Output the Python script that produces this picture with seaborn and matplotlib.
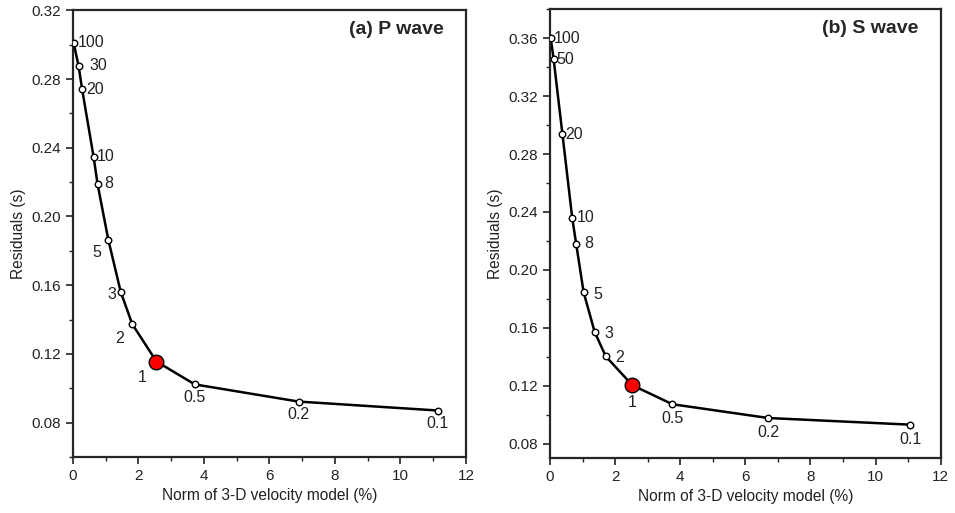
import numpy as np
import pandas as pd
import seaborn as sns
import matplotlib.pyplot as plt
from matplotlib.ticker import MultipleLocator

# damping values and L-curve points
p_damp = ["100", "30", "20", "10", "8", "5", "3", "2", "1", "0.5", "0.2", "0.1"]
p_norm = [0.02, 0.17, 0.28, 0.63, 0.75, 1.08, 1.46, 1.81, 2.55, 3.72, 6.89, 11.14]
p_resid = [0.301, 0.2877, 0.274, 0.2347, 0.219, 0.1864, 0.156, 0.1374, 0.1156, 0.1023, 0.0923, 0.0871]

s_damp = ["100", "50", "20", "10", "8", "5", "3", "2", "1", "0.5", "0.2", "0.1"]
s_norm = [0.02, 0.11, 0.38, 0.68, 0.80, 1.03, 1.37, 1.71, 2.53, 3.76, 6.70, 11.06]
s_resid = [0.360, 0.3453, 0.2937, 0.2359, 0.2182, 0.1846, 0.1571, 0.1403, 0.1203, 0.1072, 0.0977, 0.0931]

chosen = "1"

# label offsets in points (dx, dy, ha, va)
p_offsets = {
    "100": (3, 0, "left", "center"), "30": (8, 0, "left", "center"),
    "20": (3, 0, "left", "center"), "10": (2, 0, "left", "center"),
    "8": (5, 0, "left", "center"), "5": (-5, -4, "right", "top"),
    "3": (-3, -2, "right", "center"), "2": (-6, -5, "right", "top"),
    "1": (-7, -6, "right", "top"), "0.5": (0, -4, "center", "top"),
    "0.2": (0, -4, "center", "top"), "0.1": (0, -4, "center", "top"),
}
s_offsets = {
    "100": (2, 0, "left", "center"), "50": (2, 0, "left", "center"),
    "20": (2, 0, "left", "center"), "10": (3, 0, "left", "center"),
    "8": (6, 0, "left", "center"), "5": (7, -2, "left", "center"),
    "3": (7, -1, "left", "center"), "2": (7, -1, "left", "center"),
    "1": (0, -7, "center", "top"), "0.5": (0, -5, "center", "top"),
    "0.2": (0, -5, "center", "top"), "0.1": (0, -5, "center", "top"),
}

sns.set_style("ticks")
plt.rcParams['font.family'] = ['Liberation Sans', 'DejaVu Sans']

fig = plt.figure(figsize=(9.55, 5.13), dpi=100)
ax1 = fig.add_axes([0.0764, 0.109, 0.4115, 0.871])
ax2 = fig.add_axes([0.576, 0.107, 0.409, 0.875])


def draw_panel(ax, damp, norm, resid, offsets, title, ylim, ymaj, ymin):
    df = pd.DataFrame({"norm": norm, "resid": resid, "damp": damp})
    sns.lineplot(data=df, x="norm", y="resid", sort=False, color="black",
                 linewidth=1.8, ax=ax)
    other = df[df["damp"] != chosen]
    best = df[df["damp"] == chosen]
    sns.scatterplot(data=other, x="norm", y="resid", s=22, color="white",
                    edgecolor="black", linewidth=1.0, ax=ax, zorder=3)
    sns.scatterplot(data=best, x="norm", y="resid", s=110, color="red",
                    edgecolor="black", linewidth=1.0, ax=ax, zorder=4)
    for _, r in df.iterrows():
        dx, dy, ha, va = offsets[r["damp"]]
        ax.annotate(r["damp"], (r["norm"], r["resid"]), xytext=(dx, dy),
                    textcoords="offset points", ha=ha, va=va, fontsize=11.5,
                    color="#222222")
    ax.set_xlim(0, 12)
    ax.set_ylim(*ylim)
    ax.xaxis.set_major_locator(MultipleLocator(2))
    ax.xaxis.set_minor_locator(MultipleLocator(1))
    ax.yaxis.set_major_locator(MultipleLocator(ymaj))
    ax.yaxis.set_minor_locator(MultipleLocator(ymin))
    ax.yaxis.set_major_formatter(plt.FormatStrFormatter("%.2f"))
    ax.tick_params(which="major", length=5, width=1.2, labelsize=11,
                   colors="#222222")
    ax.tick_params(which="minor", length=3, width=1.0)
    for sp in ax.spines.values():
        sp.set_linewidth(1.6)
    ax.set_xlabel("Norm of 3-D velocity model (%)", fontsize=11.2, color="#222222")
    ax.set_ylabel("Residuals (s)", fontsize=11.2, color="#222222")
    ax.text(0.944, 0.975, title, transform=ax.transAxes, ha="right", va="top",
            fontsize=14, fontweight="bold")


draw_panel(ax1, p_damp, p_norm, p_resid, p_offsets, "(a) P wave",
           (0.06, 0.32), 0.04, 0.02)
draw_panel(ax2, s_damp, s_norm, s_resid, s_offsets, "(b) S wave",
           (0.07, 0.38), 0.04, 0.02)

fig.savefig("out.png", dpi=100)
